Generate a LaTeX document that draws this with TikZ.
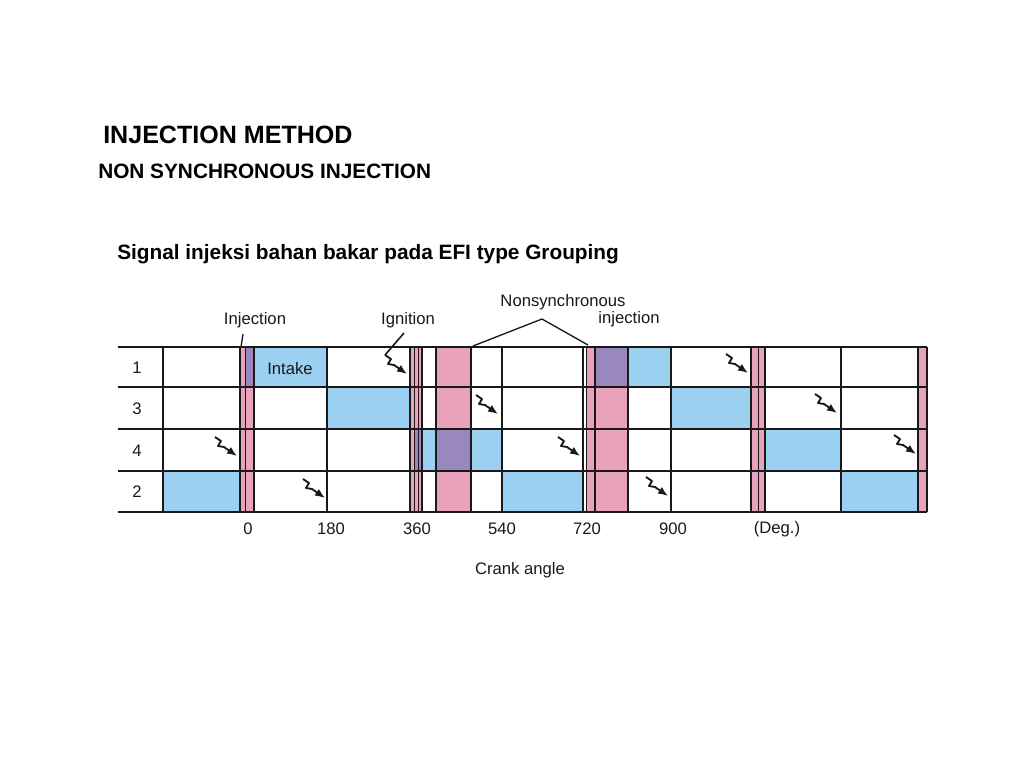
\documentclass[tikz,border=0pt]{standalone}
\usepackage{fontspec}
\setmainfont{Liberation Sans}
\usetikzlibrary{arrows.meta}
\definecolor{blueC}{RGB}{155,208,240}
\definecolor{pinkC}{RGB}{232,162,188}
\definecolor{purpC}{RGB}{152,136,190}
\definecolor{inkC}{RGB}{25,25,25}
\newcommand\sparkat[2]{\draw[sparkline,shift={(#1,#2)}] (-22,-19) -- (-16,-15) -- (-19,-10) -- (-13,-9) -- (0,0);}
\begin{document}
\begin{tikzpicture}[x=0.75pt,y=-0.75pt,
  gridline/.style={draw=inkC,line width=1.3pt},
  thinline/.style={draw=inkC,line width=0.7pt},
  sparkline/.style={draw=inkC,line width=1.4pt,line join=round,-{Latex[length=7.5pt,width=6pt]}},
  lbl/.style={font=\fontsize{12.5}{14}\selectfont,text=inkC,inner sep=0pt},
  ttl/.style={font=\fontsize{15.6}{18}\selectfont\bfseries,anchor=base west,inner sep=0pt}]
\useasboundingbox (0,0) rectangle (1024,768);
% titles
\node[ttl,font=\fontsize{18.8}{22}\selectfont\bfseries] (t1) at (103,143) {INJECTION METHOD};
\node[ttl] (t2) at (98,178) {NON SYNCHRONOUS INJECTION};
\node[ttl] (t3) at (117,259) {Signal injeksi bahan bakar pada EFI type Grouping};
% pink bars
\fill[pinkC] (240,347) rectangle (254,512);
\fill[pinkC] (410,347) rectangle (422,512);
\fill[pinkC] (437,347) rectangle (471,512);
\fill[pinkC] (586,347) rectangle (628,512);
\fill[pinkC] (751,347) rectangle (765,512);
\fill[pinkC] (918,347) rectangle (927,512);
% purple
\fill[purpC] (245,347) rectangle (254,387);
\fill[purpC] (415,429) rectangle (422,471);
\fill[purpC] (437,429) rectangle (471,471);
\fill[purpC] (595,347) rectangle (628,387);
% blue intake
\fill[blueC] (254,347) rectangle (327,387);
\fill[blueC] (628,347) rectangle (671,387);
\fill[blueC] (327,387) rectangle (410,429);
\fill[blueC] (671,387) rectangle (751,429);
\fill[blueC] (422,429) rectangle (436,471);
\fill[blueC] (471,429) rectangle (502,471);
\fill[blueC] (765,429) rectangle (841,471);
\fill[blueC] (163,471) rectangle (240,512);
\fill[blueC] (502,471) rectangle (583,512);
\fill[blueC] (841,471) rectangle (918,512);
% grid
\foreach \y in {347,387,429,471,512} \draw[gridline] (118,\y) -- (927,\y);
\foreach \x in {163,240,254,327,410,422,436,471,502,583,595,628,671,751,765,841,918,927}
  \draw[gridline] (\x,347) -- (\x,512);
\foreach \x in {245,414,418,586,758}
  \draw[thinline] (\x,347) -- (\x,512);
% row labels
\node[lbl] (r1) at (137,368) {1};
\node[lbl] (r3) at (137,409) {3};
\node[lbl] (r4) at (137,451) {4};
\node[lbl] (r2) at (137,492) {2};
\node[lbl] (intake) at (290,369) {Intake};
% sparks
\sparkat{407}{374}
\sparkat{748}{373}
\sparkat{498}{414}
\sparkat{837}{413}
\sparkat{237}{456}
\sparkat{580}{456}
\sparkat{916}{454}
\sparkat{325}{498}
\sparkat{668}{496}
% top labels
\node[lbl] (inj) at (255,320) {Injection};
\node[lbl] (ign) at (408,320) {Ignition};
\node[lbl] (non1) at (563,302) {Nonsynchronous};
\node[lbl] (non2) at (629,319) {injection};
\coordinate (injend) at (241,347);
\coordinate (ignend) at (385,355);
\draw[thinline,line width=1pt] (243,334) -- (injend);
\draw[thinline,line width=1.2pt] (404,333) -- (ignend);
\coordinate (bl) at (473,346);
\coordinate (bt) at (542,319);
\coordinate (br) at (588,345);
\draw[thinline,line width=1pt] (bl) -- (bt) -- (br);
% axis
\node[lbl] (a0) at (248,529) {0};
\node[lbl] (a180) at (331,529) {180};
\node[lbl] (a360) at (417,529) {360};
\node[lbl] (a540) at (502,529) {540};
\node[lbl] (a720) at (587,529) {720};
\node[lbl] (a900) at (673,529) {900};
\node[lbl] (adeg) at (777,529) {(Deg.)};
\node[lbl] (crank) at (520,570) {Crank angle};
\end{tikzpicture}
\end{document}
